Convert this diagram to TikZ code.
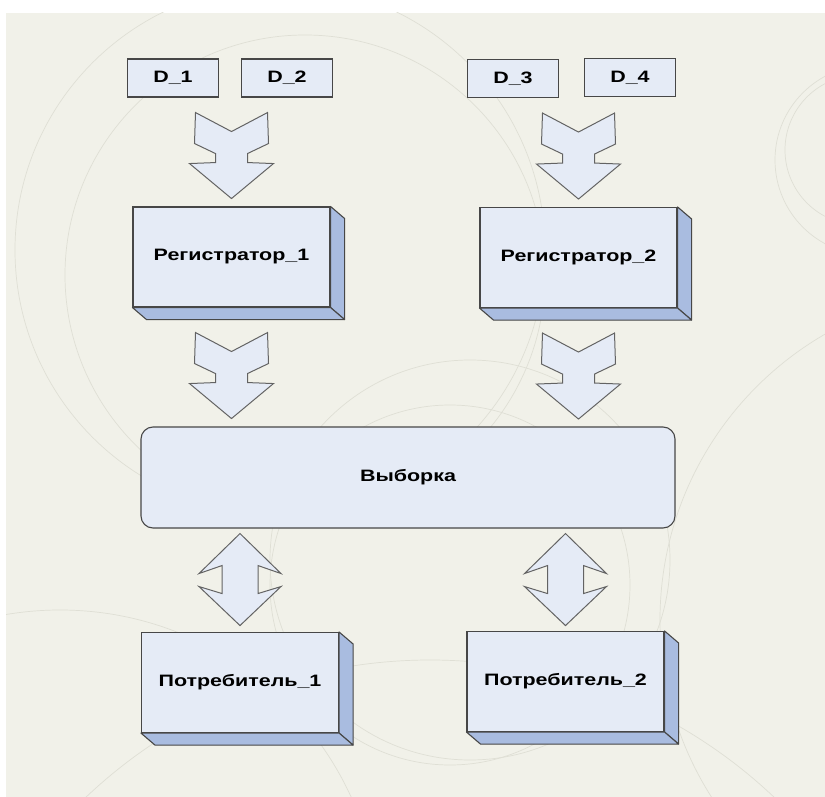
\documentclass[tikz,border=0pt]{standalone}
\usepackage{fontspec}
\setmainfont{Liberation Sans}[FakeStretch=1.3]
\usetikzlibrary{calc}
\definecolor{bgcol}{HTML}{F1F1E9}
\definecolor{ringcol}{HTML}{DFDFD5}
\definecolor{boxcol}{HTML}{E5EBF6}
\definecolor{sidecol}{HTML}{A9BCE0}
\definecolor{linecol}{HTML}{474747}
\tikzset{
  every node/.style={font=\bfseries\fontsize{16.5}{19}\selectfont},
  ringline/.style={draw=ringcol,line width=.7pt},
  dbox/.style={draw=linecol,fill=boxcol,line width=1.1pt,minimum width=91pt,minimum height=38pt,inner sep=0pt},
  regbox/.style={draw=linecol,fill=boxcol,line width=1.1pt,minimum width=197pt,minimum height=100pt,inner sep=0pt},
  selbox/.style={draw=linecol,fill=boxcol,line width=1.1pt,rounded corners=12pt,minimum width=534pt,minimum height=101pt,inner sep=0pt},
  sideface/.style={draw=linecol,fill=sidecol,line width=1.1pt,line join=round},
  bigarrow/.style={draw=linecol!85,fill=boxcol,line width=1pt,line join=miter},
  pics/chevron/.style={code={
    \filldraw[bigarrow] (-36,0) -- (0,19) -- (36,0) -- (37,31) -- (16,41) -- (16,50) -- (42,51)
      -- (0,86) -- (-42,51) -- (-16,50) -- (-16,41) -- (-37,31) -- cycle;
  }},
  pics/dblarrow/.style={code={
    \filldraw[bigarrow] (0,0) -- (41,40) -- (18,32) -- (18,60) -- (41,53) -- (0,92)
      -- (-41,53) -- (-18,60) -- (-18,32) -- (-41,40) -- cycle;
  }}
}
\begin{document}
\begin{tikzpicture}[x=1pt,y=-1pt]
\useasboundingbox (0,0) rectangle (825,797);
\fill[bgcol] (6,13) rectangle (825,797);
\begin{scope}
  \clip (6,13) rectangle (825,797);
  \foreach \cx/\cy/\r in {280/250/265,305/275/240,470/560/200,450/585/180,860/150/75,870/160/95,990/620/330,430/1160/500,60/930/320}
    \draw[ringline] (\cx,\cy) circle[radius=\r];
\end{scope}

\node[dbox] (d1) at (173,78) {D\_1};
\node[dbox] (d2) at (287,78) {D\_2};
\node[dbox] (d3) at (513,78.5) {D\_3};
\node[dbox] (d4) at (630,77.5) {D\_4};

\node[regbox] (reg1) at (231.5,257) {Регистратор\_1};
\node[regbox] (reg2) at (578.5,257.5) {Регистратор\_2};
\node[selbox] (sel) at (408,477.5) {Выборка};
\node[regbox] (pot1) at (240,682.5) {Потребитель\_1};
\node[regbox] (pot2) at (565.5,681.5) {Потребитель\_2};

% depth of the boxes
\foreach \n in {reg1,reg2,pot1,pot2}{
  \filldraw[sideface] (\n.north east) -- ++(14,12) -- ([shift={(14,12)}]\n.south east) -- (\n.south east) -- cycle;
  \filldraw[sideface] (\n.south west) -- ++(14,12) -- ([shift={(14,12)}]\n.south east) -- (\n.south east) -- cycle;
}

\pic at ($(reg1.north |- d1.south)+(0,15)$) {chevron};
\pic at ($(reg2.north |- d3.south)+(0,15)$) {chevron};
\pic at ($(reg1.south)+(0,25)$) {chevron};
\pic at ($(reg2.south)+(0,25)$) {chevron};
\pic at ($(pot1.north |- sel.south)+(0,5)$) {dblarrow};
\pic at ($(pot2.north |- sel.south)+(0,5)$) {dblarrow};
\end{tikzpicture}
\end{document}
